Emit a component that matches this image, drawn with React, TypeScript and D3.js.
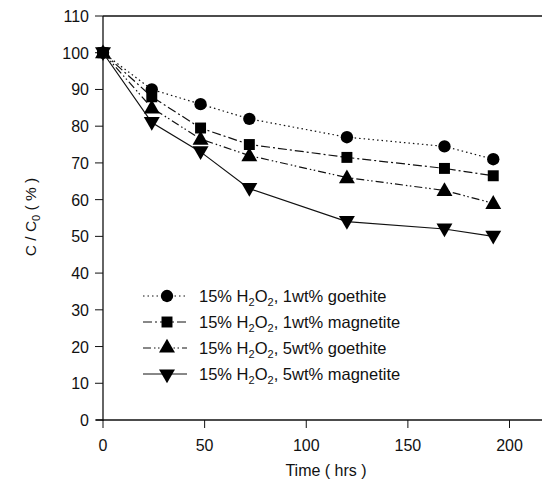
import { useEffect, useRef } from "react";
import * as d3 from "d3";

const hours = [0, 24, 48, 72, 120, 168, 192];
const goethite1 = [100, 90, 86, 82, 77, 74.5, 71];
const magnetite1 = [100, 88, 79.5, 75, 71.5, 68.5, 66.5];
const goethite5 = [100, 85, 76.5, 72, 66, 62.5, 59];
const magnetite5 = [100, 81, 73, 63, 54, 52, 50];
const seriesNames = ["1wt% goethite", "1wt% magnetite", "5wt% goethite", "5wt% magnetite"];
const xTicks = [0, 50, 100, 150, 200];
const yTicks = [0, 10, 20, 30, 40, 50, 60, 70, 80, 90, 100, 110];

export default function App() {
  const ref = useRef<SVGSVGElement>(null);

  useEffect(() => {
    const svg = d3.select(ref.current);
    svg.selectAll("*").remove();
    const font = "Arial, 'Liberation Sans', sans-serif";

    const x = d3.scaleLinear().domain([0, 215]).range([103, 540]);
    const y = d3.scaleLinear().domain([0, 110]).range([420, 16]);

    const series = [goethite1, magnetite1, goethite5, magnetite5];
    const dashes = ["1.5,3", "9,3,2,3", "8,3,1.5,2.5,1.5,3", null];
    const symbols = [d3.symbolCircle, d3.symbolSquare, d3.symbolTriangle, d3.symbolTriangle];
    const symSize = [120, 120, 110, 110];
    const rot = [0, 0, 0, 180];

    // axes frame
    svg.append("line").attr("x1", 103).attr("x2", 103).attr("y1", 16).attr("y2", 421)
      .attr("stroke", "#111").attr("stroke-width", 1.3);
    svg.append("line").attr("x1", 103).attr("x2", 542).attr("y1", 16).attr("y2", 16)
      .attr("stroke", "#111").attr("stroke-width", 1.3);
    svg.append("line").attr("x1", 96).attr("x2", 542).attr("y1", 420).attr("y2", 420)
      .attr("stroke", "#111").attr("stroke-width", 1.3);

    yTicks.forEach((t) => {
      svg.append("line").attr("x1", 95).attr("x2", 103).attr("y1", y(t)).attr("y2", y(t))
        .attr("stroke", "#111");
      svg.append("text").attr("x", 89).attr("y", y(t) + 6).attr("text-anchor", "end")
        .attr("font-family", font).attr("font-size", 16).attr("fill", "#111").text(t);
    });
    xTicks.forEach((t) => {
      svg.append("line").attr("x1", x(t)).attr("x2", x(t)).attr("y1", 420).attr("y2", 428)
        .attr("stroke", "#111");
      svg.append("text").attr("x", x(t)).attr("y", 451).attr("text-anchor", "middle")
        .attr("font-family", font).attr("font-size", 16).attr("fill", "#111").text(t);
    });

    svg.append("text").attr("x", 326).attr("y", 476).attr("text-anchor", "middle")
      .attr("font-family", font).attr("font-size", 16).attr("fill", "#111").text("Time ( hrs )");

    const yl = svg.append("text").attr("transform", "translate(36,217) rotate(-90)")
      .attr("text-anchor", "middle").attr("font-family", font).attr("font-size", 15.5).attr("fill", "#111");
    yl.append("tspan").text("C / C");
    yl.append("tspan").attr("font-size", 11).attr("dy", 4).text("0");
    yl.append("tspan").attr("dy", -4).text(" ( % )");

    const line = d3.line<number>().x((_, i) => x(hours[i])).y((d) => y(d));

    series.forEach((vals, k) => {
      const p = svg.append("path").attr("d", line(vals)).attr("fill", "none")
        .attr("stroke", "#111").attr("stroke-width", 1.2);
      if (dashes[k]) p.attr("stroke-dasharray", dashes[k]!);
      vals.forEach((v, i) => {
        svg.append("path").attr("d", d3.symbol().type(symbols[k]).size(symSize[k])())
          .attr("transform", `translate(${x(hours[i])},${y(v) + (k >= 2 ? (k === 2 ? 1 : -1) : 0)}) rotate(${rot[k]})`)
          .attr("fill", "#000");
      });

      // legend
      const ly = 296 + k * 26;
      const lg = svg.append("line").attr("x1", 143).attr("x2", 187).attr("y1", ly).attr("y2", ly)
        .attr("stroke", "#111").attr("stroke-width", 1);
      if (dashes[k]) lg.attr("stroke-dasharray", dashes[k]!);
      svg.append("path").attr("d", d3.symbol().type(symbols[k]).size(symSize[k])())
        .attr("transform", `translate(167,${ly}) rotate(${rot[k]})`).attr("fill", "#000");
      const t = svg.append("text").attr("x", 199).attr("y", ly + 6).attr("font-family", font)
        .attr("font-size", 16.5).attr("fill", "#111");
      t.append("tspan").text("15% H");
      t.append("tspan").attr("font-size", 11).attr("dy", 4).text("2");
      t.append("tspan").attr("dy", -4).text("O");
      t.append("tspan").attr("font-size", 11).attr("dy", 4).text("2");
      t.append("tspan").attr("dy", -4).text(", " + seriesNames[k]);
    });
  }, []);

  return (
    <div style={{ position: "fixed", left: 0, top: 0 }}>
      <svg ref={ref} width={542} height={482} style={{ display: "block", background: "#fff" }} />
    </div>
  );
}
